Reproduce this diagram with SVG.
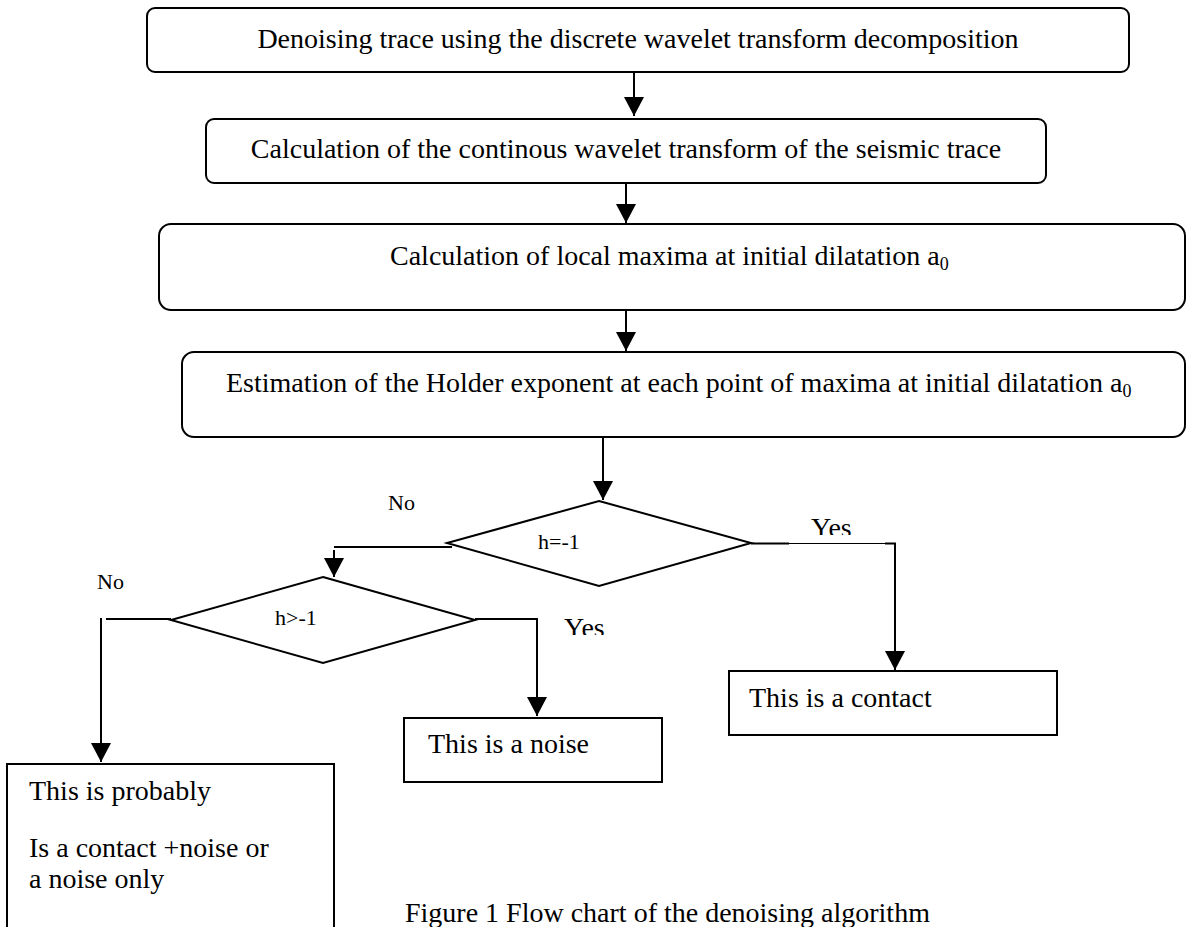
<svg xmlns="http://www.w3.org/2000/svg" width="1187" height="927" viewBox="0 0 1187 927">
<style>
.box{fill:#fff;stroke:#000;stroke-width:2}
.ln{fill:none;stroke:#000;stroke-width:2}
.thin{fill:none;stroke:#000;stroke-width:1}
.t{font-family:"Liberation Serif","Times New Roman",serif;font-size:28px;fill:#000}
.s{font-family:"Liberation Serif","Times New Roman",serif;font-size:22px;fill:#000}
.sub{font-size:18px}
</style>
<defs>
<marker id="ah" markerUnits="userSpaceOnUse" markerWidth="20" markerHeight="20" refX="19" refY="10" orient="auto">
<path d="M0,0 L19,10 L0,20 Z" fill="#000"/>
</marker>
<clipPath id="cy1"><rect x="790" y="500" width="80" height="35"/></clipPath>
<clipPath id="cy2"><rect x="550" y="600" width="80" height="35"/></clipPath>
</defs>
<rect width="1187" height="927" fill="#fff"/>
<g id="connectors">
<line class="ln" x1="634" y1="72" x2="634" y2="116" marker-end="url(#ah)"/>
<line class="ln" x1="626" y1="183" x2="626" y2="223" marker-end="url(#ah)"/>
<line class="ln" x1="626" y1="310" x2="626" y2="351" marker-end="url(#ah)"/>
<line class="ln" x1="603" y1="437" x2="603" y2="500" marker-end="url(#ah)"/>
<polyline class="ln" points="452,547 334,547"/>
<line class="ln" x1="334" y1="550" x2="334" y2="577" marker-end="url(#ah)"/>
<line class="ln" x1="751" y1="543.5" x2="789" y2="543.5"/>
<line class="thin" x1="789" y1="543.5" x2="885" y2="543.5"/>
<polyline class="ln" points="885,543.5 895,543.5 895,670" marker-end="url(#ah)"/>
<polyline class="ln" points="475,619 537,619 537,716" marker-end="url(#ah)"/>
<line class="ln" x1="171" y1="619" x2="106" y2="619"/>
<line class="ln" x1="101" y1="618" x2="101" y2="762" marker-end="url(#ah)"/>
</g>
<g id="n1">
<rect class="box" x="147" y="8" width="982" height="64" rx="8"/>
<text class="t" x="638" y="48" text-anchor="middle">Denoising trace using the discrete wavelet transform decomposition</text>
</g>
<g id="n2">
<rect class="box" x="206" y="119" width="840" height="64" rx="8"/>
<text class="t" x="626" y="158" text-anchor="middle">Calculation of the continous wavelet transform of the seismic trace</text>
</g>
<g id="n3">
<rect class="box" x="159" y="224" width="1026" height="86" rx="12"/>
<text class="t" x="390" y="265">Calculation of local maxima at initial dilatation a<tspan class="sub" dy="5">0</tspan></text>
</g>
<g id="n4">
<rect class="box" x="182" y="352" width="1003" height="85" rx="12"/>
<text class="t" x="226" y="392">Estimation of the Holder exponent at each point of maxima at initial dilatation a<tspan class="sub" dy="5">0</tspan></text>
</g>
<g id="d1">
<polygon class="box" points="599,501 751,543 599,586 447,543"/>
<text class="s" x="538" y="549">h=-1</text>
</g>
<g id="d2">
<polygon class="box" points="323,577 475,620 323,663 171,620"/>
<text class="s" x="275" y="625">h&gt;-1</text>
</g>
<g id="n5">
<rect class="box" x="729" y="671" width="328" height="64"/>
<text class="t" x="749" y="707">This is a contact</text>
</g>
<g id="n6">
<rect class="box" x="404" y="718" width="258" height="64"/>
<text class="t" x="428" y="753">This is a noise</text>
</g>
<g id="n7">
<rect class="box" x="7" y="764" width="327" height="180"/>
<text class="t" x="29" y="800">This is probably</text>
<text class="t" x="29" y="857">Is a contact +noise or</text>
<text class="t" x="29" y="888">a noise only</text>
</g>
<g id="labels">
<text class="s" x="388" y="510">No</text>
<text class="s" x="97" y="589">No</text>
<text class="t" x="811" y="537" clip-path="url(#cy1)">Yes</text>
<text class="t" x="564" y="637" clip-path="url(#cy2)">Yes</text>
<text class="t" x="405" y="922">Figure 1 Flow chart of the denoising algorithm</text>
</g>
</svg>
